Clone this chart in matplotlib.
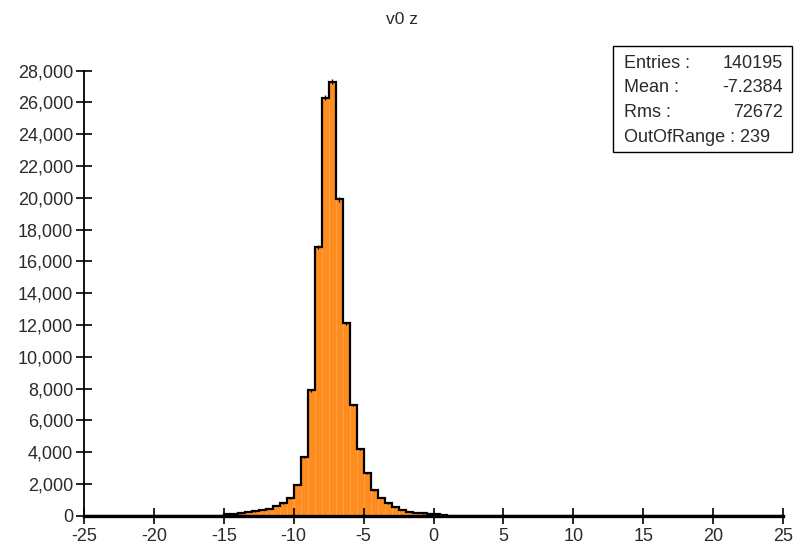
import numpy as np
import matplotlib
matplotlib.use("Agg")
import matplotlib.pyplot as plt
from matplotlib.ticker import FuncFormatter

plt.rcParams["font.family"] = ["Liberation Sans", "DejaVu Sans"]
plt.rcParams["axes.unicode_minus"] = False

# === данные: 100 бинов по 0.5 от -25 до 25 ===
bin_edges = np.linspace(-25, 25, 101)

# хвост слева (-25 .. -15)
left_tail = [2, 2, 3, 2, 3, 2, 3, 2, 3, 3,
             3, 4, 3, 3, 4, 3, 6, 4, 5, 8]
# центральная часть (-15 .. 1)
core = [107, 130, 150, 230, 270, 360, 440, 610, 780, 1100,
        1950, 3700, 7900, 16900, 26300, 27300, 19900, 12100, 6960, 4180,
        2670, 1620, 1130, 780, 570, 360, 250, 190, 150, 100,
        80, 60]
# хвост справа (1 .. 25)
right_tail = [6, 5, 4, 4, 3, 3, 3, 3, 2, 3,
              2, 2, 2, 2, 2, 2, 2, 2, 2, 2,
              2, 2, 2, 2, 2, 2, 2, 2, 2, 2,
              2, 2, 2, 2, 2, 2, 2, 2, 2, 2,
              2, 2, 2, 2, 2, 2, 2, 0]
counts = np.array(left_tail + core + right_tail, dtype=float)

stats_labels = ["Entries :", "Mean :", "Rms :"]
stats_values = ["140195", "-7.2384", "72672"]
out_of_range = "OutOfRange : 239"

fig = plt.figure(figsize=(7.96, 5.52), dpi=100)
ax = fig.add_axes([84 / 796, 1 - 515.7 / 552, 699 / 796, 445 / 552])

widths = np.diff(bin_edges)
ax.bar(bin_edges[:-1], counts, width=widths, align="edge",
       color="#ff8c1e", edgecolor="#ffa24a", linewidth=0.6, zorder=1)
ax.stairs(counts, bin_edges, color="black", linewidth=1.6, zorder=3)

centers = 0.5 * (bin_edges[:-1] + bin_edges[1:])
ax.errorbar(centers, counts, yerr=np.sqrt(counts), fmt="none",
            ecolor="black", elinewidth=0.9, zorder=4)

ax.set_xlim(-25, 25)
ax.set_ylim(0, 28000)
ax.set_xticks(np.arange(-25, 26, 5))
ax.set_yticks(np.arange(0, 28001, 2000))
ax.yaxis.set_major_formatter(FuncFormatter(lambda v, p: f"{int(v):,}"))

for side in ("top", "right"):
    ax.spines[side].set_visible(False)
ax.spines["left"].set_linewidth(1.3)
ax.spines["bottom"].set_linewidth(2.4)
ax.spines["bottom"].set_zorder(5)
ax.tick_params(axis="both", direction="inout", length=11.5, width=1.2,
               colors="black", labelcolor="#2a2a2a", labelsize=13, pad=3)
ax.tick_params(axis="y", pad=2)

fig.text(402 / 796, 1 - 19 / 552, "v0 z", ha="center", va="center",
         fontsize=12.5, color="#2a2a2a")

# === рамка статистики ===
box = plt.Rectangle((613 / 796, 1 - 152 / 552), 179 / 796, 106 / 552,
                    transform=fig.transFigure, fill=False,
                    edgecolor="black", linewidth=1.0)
fig.add_artist(box)
rows_y = [63.5, 88, 112.5, 137.5]
for i in range(3):
    fig.text(624 / 796, 1 - rows_y[i] / 552, stats_labels[i], ha="left",
             va="center", fontsize=13, color="#2a2a2a")
    fig.text(783 / 796, 1 - rows_y[i] / 552, stats_values[i], ha="right",
             va="center", fontsize=13, color="#2a2a2a")
fig.text(624 / 796, 1 - rows_y[3] / 552, out_of_range, ha="left",
         va="center", fontsize=13, color="#2a2a2a")

fig.savefig("out.png", dpi=100)
plt.close(fig)
